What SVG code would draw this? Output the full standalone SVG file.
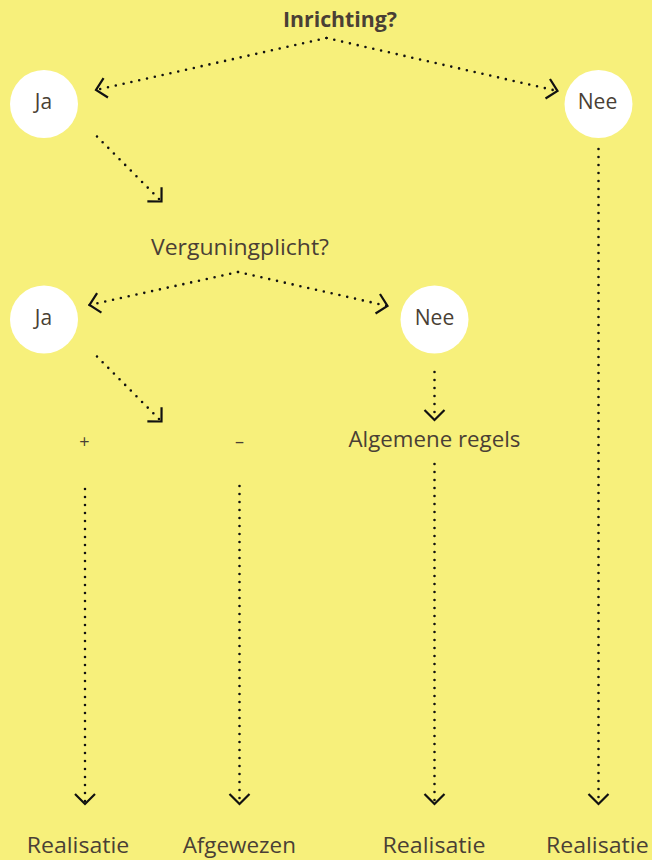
<svg xmlns="http://www.w3.org/2000/svg" width="652" height="860" viewBox="0 0 652 860">
  <style>
    .t { font-family: "Open Sans", "Noto Sans", "Liberation Sans", sans-serif; font-size: 21px; fill: #4a3f35; text-anchor: middle; }
    .b { font-weight: bold; }
    .node { fill: #ffffff; }
    .c { fill: none; stroke: #111111; stroke-width: 2.6; stroke-linecap: round; stroke-dasharray: 0 8; marker-end: url(#ah); }
  </style>
  <defs>
    <marker id="ah" markerUnits="userSpaceOnUse" markerWidth="30" markerHeight="30" viewBox="-15 -15 30 30" refX="0" refY="0" orient="auto" overflow="visible">
      <path d="M-10,-10 L0,0 L-10,10" fill="none" stroke="#111111" stroke-width="2.2" stroke-linecap="butt" stroke-linejoin="miter"/>
    </marker>
  </defs>
  <rect x="0" y="0" width="652" height="860" fill="#F7F07B"/>

  <g id="connectors">
    <line class="c" x1="326.5" y1="38" x2="96" y2="90"/>
    <line class="c" x1="326.5" y1="38" x2="557.5" y2="91"/>
    <line class="c" x1="97" y1="136.5" x2="161.5" y2="201.5"/>
    <line class="c" x1="598.5" y1="149" x2="598.5" y2="804"/>
    <line class="c" x1="238" y1="272" x2="89.5" y2="305"/>
    <line class="c" x1="238" y1="272" x2="387.5" y2="306"/>
    <line class="c" x1="97" y1="356.5" x2="161.5" y2="421.5"/>
    <line class="c" x1="434.5" y1="372" x2="434.5" y2="420"/>
    <line class="c" x1="85" y1="489" x2="85" y2="804"/>
    <line class="c" x1="239.5" y1="486" x2="239.5" y2="804"/>
    <line class="c" x1="434.5" y1="464" x2="434.5" y2="804"/>
  </g>

  <g id="q1"><text class="t b" x="340" y="27.3" textLength="114" lengthAdjust="spacingAndGlyphs">Inrichting?</text></g>
  <g id="ja1"><circle class="node" cx="44" cy="104" r="34"/><text class="t" x="43.5" y="109.3">Ja</text></g>
  <g id="nee1"><circle class="node" cx="598.5" cy="104" r="34"/><text class="t" x="597.5" y="109.3" textLength="39.6" lengthAdjust="spacingAndGlyphs">Nee</text></g>
  <g id="q2"><text class="t" x="240" y="255" textLength="178" lengthAdjust="spacingAndGlyphs">Verguningplicht?</text></g>
  <g id="ja2"><circle class="node" cx="44" cy="319.5" r="34"/><text class="t" x="43.5" y="324.8">Ja</text></g>
  <g id="nee2"><circle class="node" cx="434.5" cy="319.5" r="34"/><text class="t" x="434.5" y="324.8" textLength="39.6" lengthAdjust="spacingAndGlyphs">Nee</text></g>
  <g id="plus"><text class="t" x="84.3" y="447.5" style="font-size:18px">+</text></g>
  <g id="min"><text class="t" x="239.5" y="447.5" style="font-size:18px">–</text></g>
  <g id="alg"><text class="t" x="434.5" y="447.3" textLength="172" lengthAdjust="spacingAndGlyphs">Algemene regels</text></g>
  <g id="r1"><text class="t" x="78" y="852.7" textLength="102.6" lengthAdjust="spacingAndGlyphs">Realisatie</text></g>
  <g id="afg"><text class="t" x="239.3" y="852.7" textLength="113.3" lengthAdjust="spacingAndGlyphs">Afgewezen</text></g>
  <g id="r2"><text class="t" x="434" y="852.7" textLength="103" lengthAdjust="spacingAndGlyphs">Realisatie</text></g>
  <g id="r3"><text class="t" x="597.3" y="852.7" textLength="102.7" lengthAdjust="spacingAndGlyphs">Realisatie</text></g>
</svg>
